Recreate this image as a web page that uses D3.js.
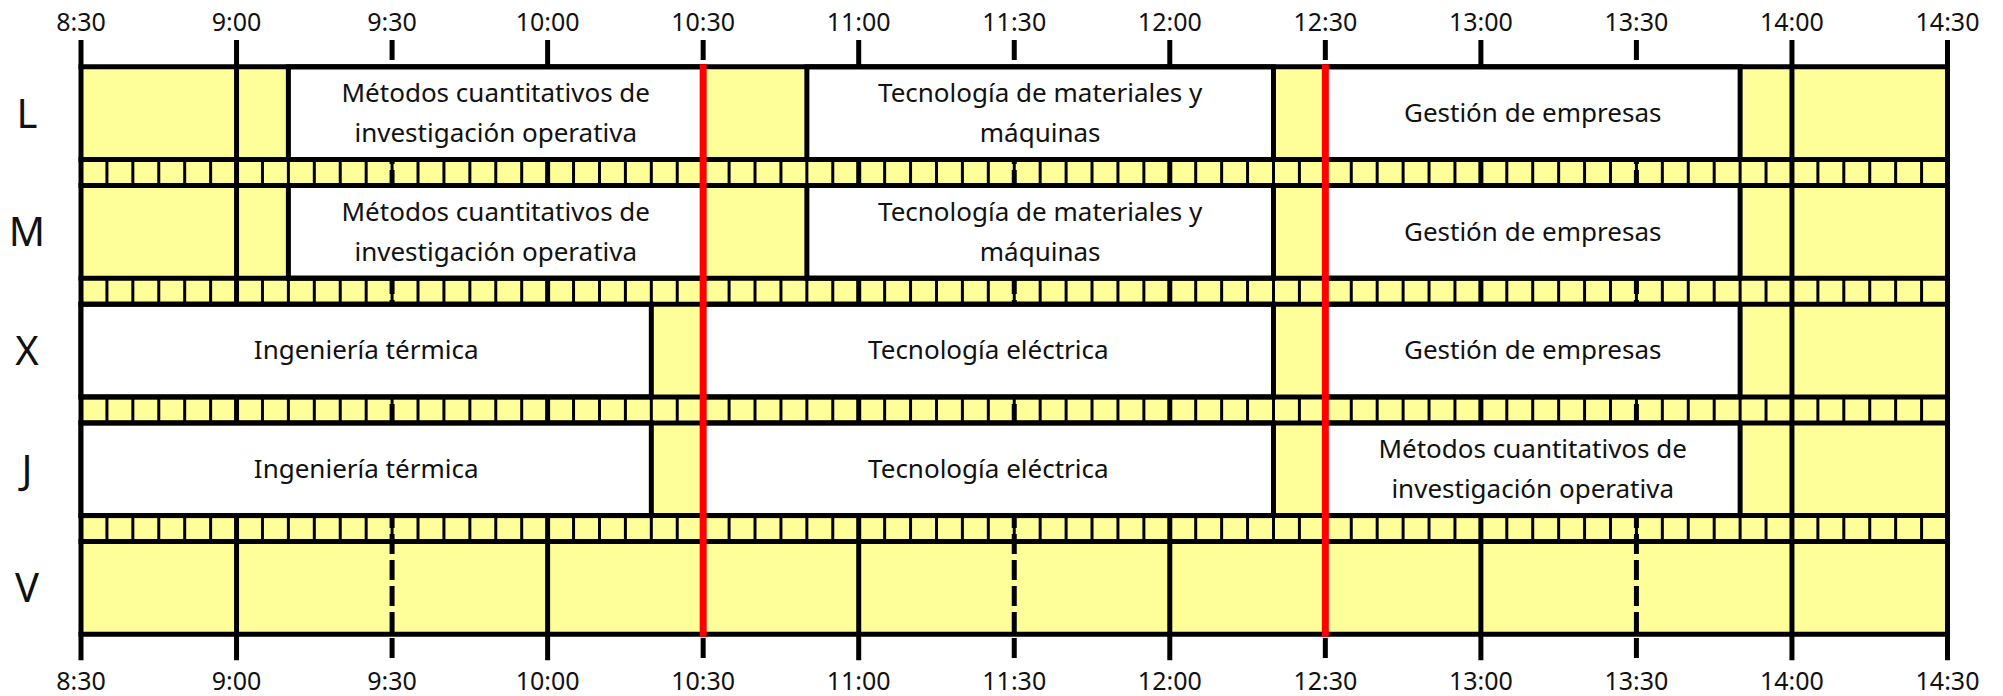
<!DOCTYPE html>
<html>
<head>
<meta charset="utf-8">
<script src="https://cdn.jsdelivr.net/npm/d3@7"></script>
<style>
  html, body { margin: 0; padding: 0; background: #ffffff; }
  svg { display: block; }
  text { font-family: "Noto Sans", Lato, sans-serif; fill: #111; }
</style>
</head>
<body>
<svg id="chart" width="2003" height="696"></svg>
<script>
// ---- data ----
const days = ["L", "M", "X", "J", "V"];
const tickLabels = ["8:30", "9:00", "9:30", "10:00", "10:30", "11:00", "11:30",
                    "12:00", "12:30", "13:00", "13:30", "14:00", "14:30"];
const sessionDay   = ["L", "L", "L", "M", "M", "M", "X", "X", "X", "J", "J", "J"];
const sessionStart = ["9:10", "10:50", "12:30", "9:10", "10:50", "12:30",
                      "8:30", "10:30", "12:30", "8:30", "10:30", "12:30"];
const sessionEnd   = ["10:30", "12:20", "13:50", "10:30", "12:20", "13:50",
                      "10:20", "12:20", "13:50", "10:20", "12:20", "13:50"];
const sessionName  = [
  "Métodos cuantitativos de\ninvestigación operativa",
  "Tecnología de materiales y\nmáquinas",
  "Gestión de empresas",
  "Métodos cuantitativos de\ninvestigación operativa",
  "Tecnología de materiales y\nmáquinas",
  "Gestión de empresas",
  "Ingeniería térmica",
  "Tecnología eléctrica",
  "Gestión de empresas",
  "Ingeniería térmica",
  "Tecnología eléctrica",
  "Métodos cuantitativos de\ninvestigación operativa"
];
const markerTimes = ["10:30", "12:30"];
const slotMinutes = 5;

// ---- helpers ----
const toMin = s => { const [h, m] = s.split(":").map(Number); return h * 60 + m; };

// ---- layout ----
const svg = d3.select("#chart");
const tMin = toMin(tickLabels[0]);
const tMax = toMin(tickLabels[tickLabels.length - 1]);
const x = d3.scaleLinear().domain([tMin, tMax]).range([81, 1947.5]);
const yTop = 66.8, period = 118.7, rowH = 92.7;
const y = d3.scaleBand().domain(days).range([yTop, yTop + period * days.length]).paddingInner(0);
const gridBottom = y(days[days.length - 1]) + rowH;
const tickTop = 40, tickBottom = gridBottom + 26;
const LW = 5;
const YELLOW = "#ffff99";

// 1. yellow background
svg.append("rect")
  .attr("x", x(tMin)).attr("y", yTop)
  .attr("width", x(tMax) - x(tMin)).attr("height", gridBottom - yTop)
  .attr("fill", YELLOW);

// 2. thin 5-minute separators in the strips between rows
const slots = d3.range(tMin, tMax + 1, slotMinutes);
days.slice(0, -1).forEach(d => {
  const s0 = y(d) + rowH, s1 = y(d) + period;
  svg.append("g").selectAll("line").data(slots).join("line")
    .attr("x1", t => x(t)).attr("x2", t => x(t))
    .attr("y1", s0).attr("y2", s1)
    .attr("stroke", "#000").attr("stroke-width", 3);
});

// 3. vertical grid lines (hours solid, half hours dashed) with ticks
const ticks = tickLabels.map(toMin);
svg.append("g").selectAll("line").data(ticks).join("line")
  .attr("x1", t => x(t)).attr("x2", t => x(t))
  .attr("y1", tickTop).attr("y2", tickBottom)
  .attr("stroke", "#000").attr("stroke-width", LW)
  .attr("stroke-dasharray", t => (t % 60 === 0 || t === tMin || t === tMax) ? null : "20,6");

// 4. course boxes
const sessions = sessionDay.map((d, i) => ({
  day: d, start: toMin(sessionStart[i]), end: toMin(sessionEnd[i]), name: sessionName[i]
}));
svg.append("g").selectAll("rect").data(sessions).join("rect")
  .attr("x", s => x(s.start)).attr("y", s => y(s.day))
  .attr("width", s => x(s.end) - x(s.start)).attr("height", rowH)
  .attr("fill", "#fff").attr("stroke", "#000").attr("stroke-width", LW);

// 5. horizontal borders
const hLines = [];
days.forEach(d => { hLines.push(y(d)); hLines.push(y(d) + rowH); });
svg.append("g").selectAll("line").data(hLines).join("line")
  .attr("x1", x(tMin) - LW / 2).attr("x2", x(tMax) + LW / 2)
  .attr("y1", v => v).attr("y2", v => v)
  .attr("stroke", "#000").attr("stroke-width", LW);

// 6. red markers
svg.append("g").selectAll("line").data(markerTimes.map(toMin)).join("line")
  .attr("x1", t => x(t)).attr("x2", t => x(t))
  .attr("y1", yTop - LW / 2).attr("y2", gridBottom + LW / 2)
  .attr("stroke", "#ff0000").attr("stroke-width", 7);

// 7. course names
const capHalf = 8.8, lineGap = 40;
const tg = svg.append("g").selectAll("text").data(sessions).join("text")
  .attr("text-anchor", "middle")
  .attr("font-size", 26);
tg.each(function (s) {
  const lines = s.name.split("\n");
  const cx = (x(s.start) + x(s.end)) / 2;
  const cy = y(s.day) + rowH / 2;
  const first = cy + capHalf - (lines.length - 1) * lineGap / 2;
  d3.select(this).selectAll("tspan").data(lines).join("tspan")
    .attr("x", cx).attr("y", (l, i) => first + i * lineGap)
    .text(l => l);
});

// 8. day labels
svg.append("g").selectAll("text").data(days).join("text")
  .attr("x", 27).attr("y", d => y(d) + rowH / 2 + 14.5)
  .attr("text-anchor", "middle").attr("font-size", 40)
  .text(d => d);

// 9. axis labels top and bottom
[31, 690].forEach(by => {
  svg.append("g").selectAll("text").data(tickLabels).join("text")
    .attr("x", l => x(toMin(l))).attr("y", by)
    .attr("text-anchor", "middle").attr("font-size", 25)
    .text(l => l);
});
</script>
</body>
</html>
